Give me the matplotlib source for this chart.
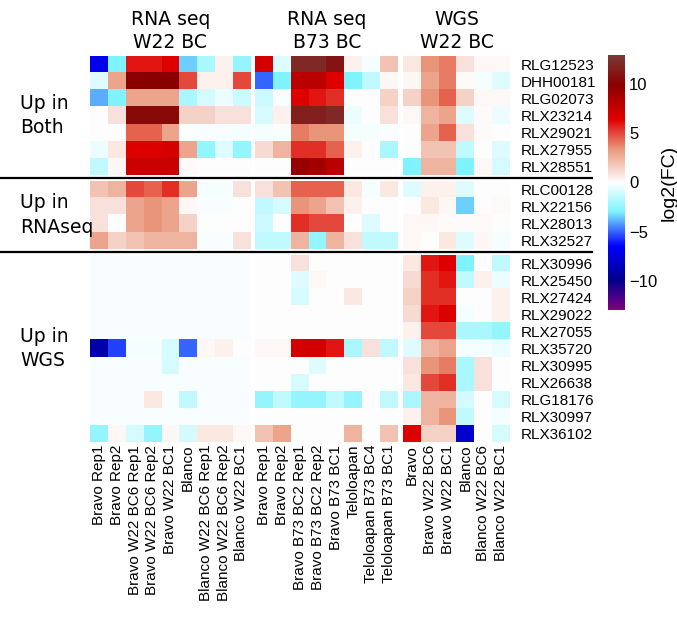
import numpy as np
import matplotlib
matplotlib.use("Agg")
import matplotlib.pyplot as plt
from matplotlib.colors import LinearSegmentedColormap, Normalize
from matplotlib.lines import Line2D

#----------------------------------------------------------------
# Data : log2 fold change per element (rows) and sample (columns)
#----------------------------------------------------------------
row_labels = ["RLG12523", "DHH00181", "RLG02073", "RLX23214", "RLX29021",
              "RLX27955", "RLX28551",
              "RLC00128", "RLX22156", "RLX28013", "RLX32527",
              "RLX30996", "RLX25450", "RLX27424", "RLX29022", "RLX27055",
              "RLX35720", "RLX30995", "RLX26638", "RLG18176", "RLX30997",
              "RLX36102"]
row_group_names = ["Up in\nBoth", "Up in\nRNAseq", "Up in\nWGS"]
row_group_sizes = [7, 4, 11]

col_group_names = ["RNA seq\nW22 BC", "RNA seq\nB73 BC", "WGS\nW22 BC"]
w22_cols = ["Bravo Rep1", "Bravo Rep2", "Bravo W22 BC6 Rep1", "Bravo W22 BC6 Rep2",
            "Bravo W22 BC1", "Blanco", "Blanco W22 BC6 Rep1", "Blanco W22 BC6 Rep2",
            "Blanco W22 BC1"]
b73_cols = ["Bravo Rep1", "Bravo Rep2", "Bravo B73 BC2 Rep1", "Bravo B73 BC2 Rep2",
            "Bravo B73 BC1", "Teloloapan", "Teloloapan B73 BC4", "Teloloapan B73 BC1"]
wgs_cols = ["Bravo", "Bravo W22 BC6", "Bravo W22 BC1", "Blanco", "Blanco W22 BC6",
            "Blanco W22 BC1"]

rnaseq_w22 = [
    [-7, -3, 6, 6, 6.5, -3.5, -2, 0.5, -2.5],
    [-0.8, 3, 10, 10, 10, 5, 0.5, 0.5, 5],
    [-4, -3, 3, 3, 3, -2, -1, -0.5, -1.2],
    [0, 1, 10.5, 10.5, 10.5, 1.5, 1.5, 1, 1],
    [0, 0, 4.5, 4.5, 3, 0, -0.2, -0.2, -0.3],
    [-0.5, 0.8, 6.5, 6.5, 7, 3, -2.5, -0.8, -2.5],
    [-1.5, 0.3, 7.5, 7.5, 7.5, 0.2, 0, 0, 0],
    [2, 2.5, 5, 4.5, 5.5, 3, -0.3, -0.3, 1],
    [1, 1, 3, 3.5, 3, 0.3, -0.2, -0.2, 0],
    [1, 0, 3, 3.5, 3, 1.5, 0, 0, 0],
    [3, 1.5, 2, 2.5, 2.5, 2.5, -0.2, -0.2, 1],
    [-0.15, -0.15, -0.15, -0.15, -0.15, -0.15, -0.15, -0.15, -0.15],
    [-0.15, -0.15, -0.15, -0.15, -0.15, -0.15, -0.15, -0.15, -0.15],
    [-0.15, -0.15, -0.15, -0.15, -0.15, -0.15, -0.15, -0.15, -0.15],
    [-0.15, -0.15, -0.15, -0.15, -0.15, -0.15, -0.15, -0.15, -0.15],
    [-0.15, -0.15, -0.15, -0.15, -0.15, -0.15, -0.15, -0.15, -0.15],
    [-9, -5.5, -0.3, -0.3, -1, -5, 0.3, 0.5, 0],
    [-0.15, -0.15, -0.15, -0.15, -1, -0.15, -0.15, -0.15, -0.15],
    [-0.15, -0.15, -0.15, -0.15, -0.15, -0.15, -0.15, -0.15, -0.15],
    [-0.15, -0.15, -0.15, 0.8, -0.15, -1.5, -0.15, -0.15, -0.15],
    [-0.15, -0.15, -0.15, -0.15, -0.15, -0.15, -0.15, -0.15, -0.15],
    [-2.5, 0.3, -1, -2.5, 0.3, -1, 0.8, 0.8, 0.3],
]

rnaseq_b73 = [
    [7, -0.8, 12, 12, 11, 0.5, -0.3, 2],
    [-5, -3, 8, 8, 6.5, -3, -1.5, 0.3],
    [-1.2, -0.2, 6.5, 6, 5.5, 0, 0, 1.5],
    [-1, 0.5, 11.5, 11.5, 12, -0.5, 0, 1],
    [-0.3, -0.2, 4, 3.5, 3.5, -0.3, -0.3, -0.2],
    [1.2, 2.5, 5.5, 5.5, 4.5, 0.5, 0, -2],
    [0, 0, 9.5, 9, 8, 0, 0, 0],
    [1, 2, 4.5, 4.5, 4.5, 0.8, -0.3, 0.8],
    [-1.5, -1, 3.5, 3, 2, 0.5, 0, 0],
    [-1.2, 0, 5.5, 5, 5, 0, -0.8, 0],
    [-1.5, -1.5, 2.5, -2.5, 2.5, 1, -1.5, -1.5],
    [0, 0, 1, 0, 0, 0, 0, 0],
    [0, 0, -0.8, 0.3, 0, 0, 0, 0],
    [0, 0, -1, 0, 0, 0.8, 0, 0],
    [0, 0, 0, 0, 0, 0, 0, 0],
    [0, 0, 0, 0, 0, 0, 0, 0],
    [0.3, 0.3, 7, 7, 6, -2, 1, -1.5],
    [0, 0, 0, -0.8, 0, 0, 0, 0],
    [0, 0, -1, 0, 0, 0, 0, 0],
    [-2.5, -1.5, -2.5, -2.5, -1.5, -2.5, 0, -1.5],
    [0, 0, 0, 0, 0, 0, 0, 0],
    [2, 3, 0, 0, 0, 2.5, 0, 2],
]

wgs_w22 = [
    [0.8, 3.5, 4, 1, 0.3, 0.3],
    [0.3, 3, 4, 0.2, -0.3, -0.8],
    [1.5, 3.5, 4.5, 1.5, 0.3, 0.3],
    [0.3, 2.5, 3, -0.8, 0.2, -0.5],
    [0, 3, 4.5, 1, 0.2, 0],
    [0, 2, 2, -1.5, 0, -0.8],
    [-3, 2.5, 2.5, -3, 0.3, -1],
    [-0.8, 0.5, 0.5, -0.8, 0, 0],
    [0, 0.8, 0.3, -3.5, 0, 0.2],
    [0.3, 0.3, 0.2, 0.2, 0.2, 0],
    [0.3, 0, 0.8, -0.8, 0.3, -0.3],
    [0.8, 6, 6.5, -3, 0, -1.5],
    [1.2, 5.5, 6, -1.5, 0.5, -0.5],
    [1.5, 5.5, 5.5, 0, 0, 0.5],
    [1.2, 6, 6.5, -0.3, 0, 0.5],
    [0.5, 5, 5, -2, -2, -2.5],
    [-0.8, 2.5, 3, -0.3, -0.3, -0.5],
    [1, 3.5, 4, -2, 1, 0],
    [0.8, 5, 5.5, -2, 1, 0],
    [-2, 2.5, 2.5, -1, 0, -1],
    [0.5, 2.5, 3.5, -1.5, 0, -0.3],
    [6.5, 1.5, 1.5, -8, 0, -1],
]

col_blocks = [np.array(rnaseq_w22), np.array(rnaseq_b73), np.array(wgs_w22)]
col_labels = [w22_cols, b73_cols, wgs_cols]

#----------------------------------------------------------------
# Colour map : purple - navy - blue - cyan - white - salmon - red - brown
#----------------------------------------------------------------
vmin, vmax = -13, 13
nodes = [(-13, "#800080"), (-10, "#00008b"), (-6.5, "#0000ff"), (-3, "#80f4ff"),
         (0, "#ffffff"), (3.5, "#e9967a"), (6.5, "#e00000"), (10, "#8b0000"),
         (13, "#7a3a36")]
cmap = LinearSegmentedColormap.from_list(
    "fc", [((v - vmin) / (vmax - vmin), c) for v, c in nodes])
norm = Normalize(vmin=vmin, vmax=vmax)

tick_font = "Liberation Sans"
head_font = "DejaVu Sans"

#----------------------------------------------------------------
# Figure and grid of heatmap blocks
#----------------------------------------------------------------
fig = plt.figure(figsize=(6.77, 6.21), dpi=100)
gs = fig.add_gridspec(3, 3, left=90 / 677, right=510 / 677,
                      top=1 - 56 / 621, bottom=1 - 442 / 621,
                      width_ratios=[len(c) for c in col_labels],
                      height_ratios=row_group_sizes,
                      wspace=0.037, hspace=0.045)

row_starts = np.cumsum([0] + row_group_sizes)
axes = [[None] * 3 for _ in range(3)]
im = None
for i in range(3):
    r0, r1 = row_starts[i], row_starts[i + 1]
    for j in range(3):
        ax = fig.add_subplot(gs[i, j])
        axes[i][j] = ax
        block = col_blocks[j][r0:r1]
        im = ax.imshow(block, cmap=cmap, norm=norm, aspect="auto",
                       interpolation="nearest")
        for s in ax.spines.values():
            s.set_visible(False)
        ax.tick_params(length=0)
        ax.set_xticks([])
        ax.set_yticks([])
        if i == 2:
            ax.set_xticks(range(len(col_labels[j])))
            ax.set_xticklabels(col_labels[j], rotation=90, fontsize=11,
                               family=tick_font)
            ax.tick_params(axis="x", pad=2)
        if i == 0:
            ax.set_title(col_group_names[j], fontsize=13.5, family=head_font,
                         pad=6, linespacing=1.25)
        if j == 2:
            ax.yaxis.tick_right()
            ax.set_yticks(range(r1 - r0))
            ax.set_yticklabels(row_labels[r0:r1], fontsize=11, family=tick_font)
            ax.tick_params(axis="y", pad=8, length=0)

# Row group names on the left
for i in range(3):
    pos = axes[i][0].get_position()
    fig.text(20 / 677, (pos.y0 + pos.y1) / 2, row_group_names[i],
             fontsize=13.5, family=head_font, ha="left", va="center",
             linespacing=1.35)

# Separator lines between row groups
for i in range(2):
    y = (axes[i][0].get_position().y0 + axes[i + 1][0].get_position().y1) / 2
    fig.add_artist(Line2D([0, 592 / 677], [y, y], color="black", lw=1.6,
                          transform=fig.transFigure))

#----------------------------------------------------------------
# Colour bar
#----------------------------------------------------------------
cax = fig.add_axes([608 / 677, 1 - 310 / 621, 17 / 677, 255 / 621])
cbar = fig.colorbar(im, cax=cax, ticks=[-10, -5, 0, 5, 10])
cbar.outline.set_visible(False)
cbar.ax.tick_params(length=0, pad=3)
for t in cbar.ax.get_yticklabels():
    t.set_fontsize(12)
    t.set_family(tick_font)
cbar.set_label("log2(FC)", fontsize=14, family=tick_font, labelpad=2)

fig.savefig("out.png", dpi=100)
